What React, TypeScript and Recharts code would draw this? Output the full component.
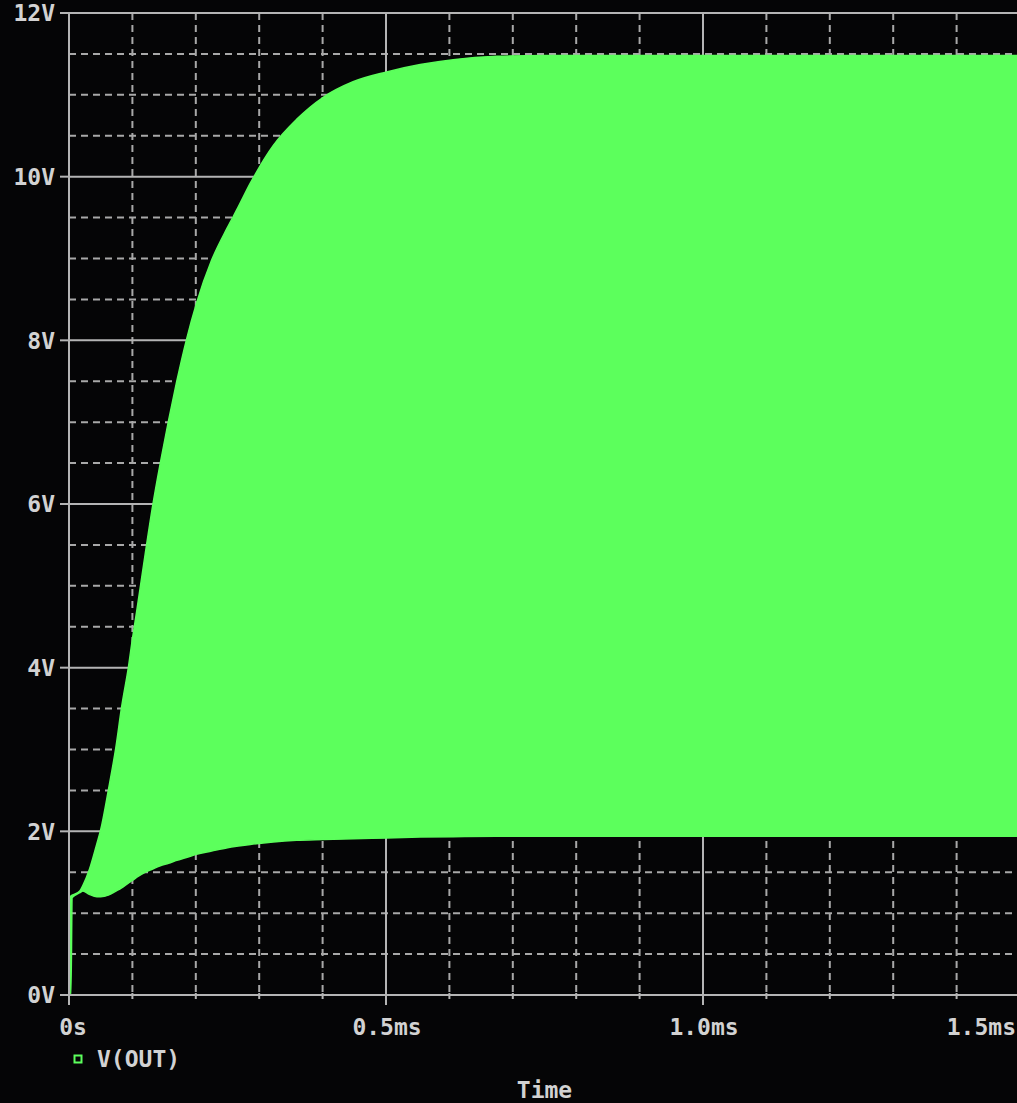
import React from 'react';
import { ComposedChart, Area, XAxis, YAxis, CartesianGrid, Label } from 'recharts';

// Time in ms
const timeMs = [0, 0.003, 0.005, 0.017, 0.022, 0.032, 0.044, 0.05, 0.062, 0.074, 0.083, 0.094, 0.1, 0.107, 0.12, 0.132, 0.144, 0.157, 0.17, 0.185, 0.201, 0.225, 0.25, 0.267, 0.286, 0.322, 0.359, 0.401, 0.448, 0.501, 0.554, 0.606, 0.675, 0.75, 1.0, 1.25, 1.5];
// Upper envelope of V(OUT) (V)
const upperV = [1.18, 1.21, 1.22, 1.27, 1.34, 1.53, 1.85, 2.02, 2.5, 3.03, 3.52, 4.02, 4.35, 4.7, 5.38, 5.98, 6.5, 7.02, 7.5, 8.0, 8.45, 8.98, 9.38, 9.63, 9.92, 10.38, 10.7, 10.97, 11.16, 11.28, 11.37, 11.43, 11.47, 11.48, 11.48, 11.48, 11.48];
// Lower envelope of V(OUT) (V)
const lowerV = [0, 0, 1.19, 1.25, 1.27, 1.23, 1.2, 1.2, 1.22, 1.27, 1.31, 1.37, 1.4, 1.44, 1.5, 1.54, 1.58, 1.61, 1.645, 1.68, 1.72, 1.76, 1.8, 1.82, 1.84, 1.87, 1.89, 1.9, 1.91, 1.92, 1.93, 1.935, 1.94, 1.94, 1.94, 1.94, 1.94];

const xMajorTicks = [0, 0.5, 1.0, 1.5];
const xMajorLabels = ['0s', '0.5ms', '1.0ms', '1.5ms'];
const xMinorTicks = [0.1, 0.2, 0.3, 0.4, 0.6, 0.7, 0.8, 0.9, 1.1, 1.2, 1.3, 1.4];
const yMajorTicks = [0, 2, 4, 6, 8, 10, 12];
const yMajorLabels = ['0V', '2V', '4V', '6V', '8V', '10V', '12V'];
const yMinorTicks = [0.5, 1, 1.5, 2.5, 3, 3.5, 4.5, 5, 5.5, 6.5, 7, 7.5, 8.5, 9, 9.5, 10.5, 11, 11.5];
const seriesName = 'V(OUT)';
const xAxisTitle = 'Time';

const data = timeMs.map((t, i) => ({ t, range: [lowerV[i], upperV[i]] }));
const allXTicks = [...xMajorTicks, ...xMinorTicks].sort((a, b) => a - b);

const GREEN = '#5cff5c';
const TEXT = '#d2d2d2';
const GRID = '#b4b4b4';
const BG = '#050506';
const FONT = '"DejaVu Sans Mono", monospace';

const XTick = (props: any) => {
  const { x, y, payload } = props;
  const idx = xMajorTicks.findIndex((v) => Math.abs(v - payload.value) < 1e-9);
  const major = idx >= 0;
  const last = idx === xMajorTicks.length - 1;
  return (
    <g>
      <line x1={x} x2={x} y1={y - 2} y2={y + (major ? 10 : 4)} stroke={GRID} strokeWidth={2} />
      {major && (
        <text
          x={last ? x - 4 : x + (idx === 0 ? 4 : 1)}
          y={y + 40}
          textAnchor={last ? 'end' : 'middle'}
          fill={TEXT}
          fontFamily={FONT}
          fontWeight="bold"
          fontSize={23}
        >
          {xMajorLabels[idx]}
        </text>
      )}
    </g>
  );
};

const YTick = (props: any) => {
  const { x, y, payload } = props;
  const idx = yMajorTicks.findIndex((v) => Math.abs(v - payload.value) < 1e-9);
  return (
    <g>
      <line x1={x - 9} x2={x} y1={y} y2={y} stroke={GRID} strokeWidth={2} />
      <text x={x - 14} y={y} dy="0.36em" textAnchor="end" fill={TEXT} fontFamily={FONT} fontWeight="bold" fontSize={23}>
        {idx >= 0 ? yMajorLabels[idx] : ''}
      </text>
    </g>
  );
};

const TimeLabel = (props: any) => {
  const vb = props.viewBox || {};
  return (
    <text x={vb.x + vb.width / 2} y={vb.y + 103} textAnchor="middle" fill={TEXT} fontFamily={FONT} fontWeight="bold" fontSize={23}>
      {xAxisTitle}
    </text>
  );
};

export default function App() {
  return (
    <div style={{ position: 'absolute', left: 0, top: 0, width: 1017, height: 1103, overflow: 'hidden', background: BG }}>
      <ComposedChart
        width={1100}
        height={1103}
        data={data}
        margin={{ top: 13, right: 80, bottom: 8, left: 9 }}
      >
        <CartesianGrid
          horizontalValues={yMinorTicks}
          verticalValues={xMinorTicks}
          stroke="#a8a8a8"
          strokeWidth={2}
          strokeDasharray="7 5"
        />
        <CartesianGrid
          horizontalValues={yMajorTicks}
          verticalValues={xMajorTicks}
          stroke={GRID}
          strokeWidth={2}
        />
        <XAxis
          type="number"
          dataKey="t"
          domain={[0, 1.5]}
          ticks={allXTicks}
          interval={0}
          allowDataOverflow
          height={100}
          tickSize={0}
          tickMargin={0}
          tickLine={false}
          axisLine={{ stroke: GRID, strokeWidth: 2 }}
          tick={<XTick />}
        >
          <Label content={<TimeLabel />} />
        </XAxis>
        <YAxis
          type="number"
          domain={[0, 12]}
          ticks={yMajorTicks}
          interval={0}
          width={60}
          tickSize={0}
          tickMargin={0}
          tickLine={false}
          axisLine={{ stroke: GRID, strokeWidth: 2 }}
          tick={<YTick />}
        />
        <Area
          name={seriesName}
          dataKey="range"
          type="monotone"
          fill={GREEN}
          fillOpacity={1}
          stroke={GREEN}
          strokeWidth={1.5}
          dot={false}
          activeDot={false}
          isAnimationActive={false}
        />
      </ComposedChart>
      <svg style={{ position: 'absolute', left: 70, top: 1044 }} width={140} height={30}>
        <rect x={4.5} y={11.5} width={7} height={7} fill="none" stroke={GREEN} strokeWidth={2} />
        <text x={27} y={23} fill={TEXT} fontFamily={FONT} fontWeight="bold" fontSize={23}>
          {seriesName}
        </text>
      </svg>
    </div>
  );
}
